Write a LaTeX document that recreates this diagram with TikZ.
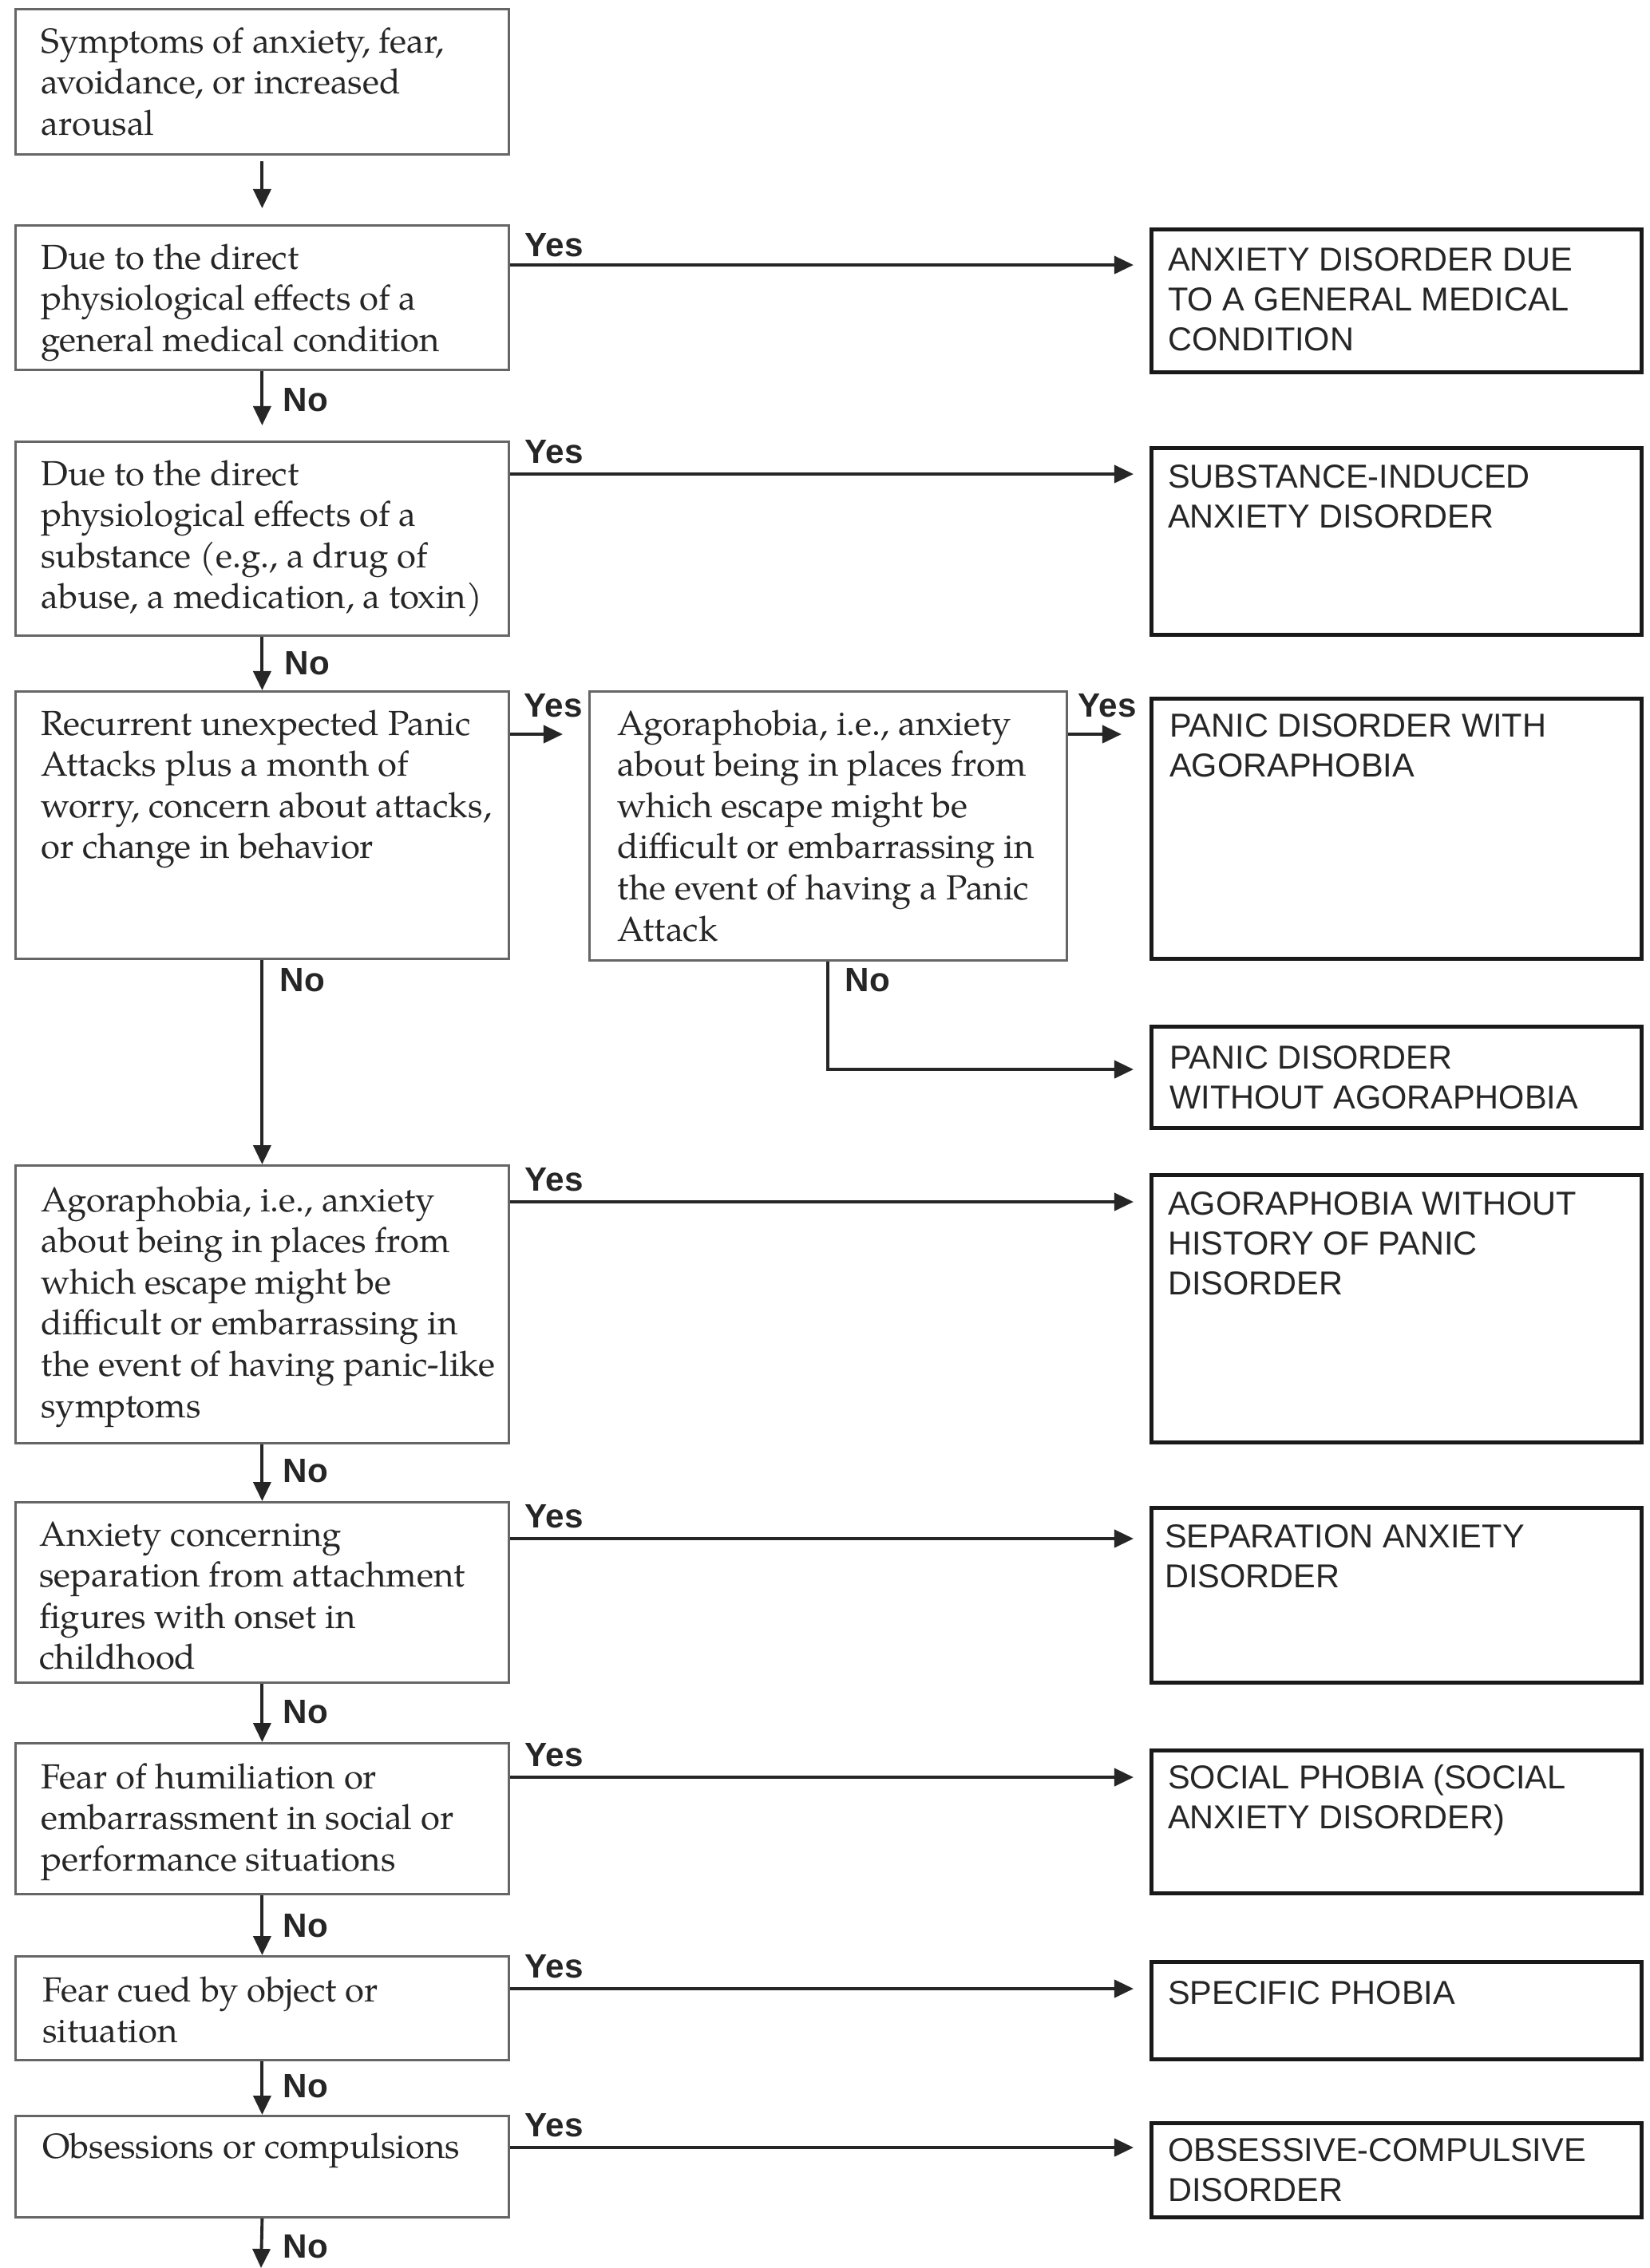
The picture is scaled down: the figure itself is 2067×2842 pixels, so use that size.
\documentclass[tikz,border=0pt]{standalone}
\usepackage{fontspec}
\setmainfont{TeX Gyre Pagella}
\newfontfamily\rfont{Liberation Sans}
\usetikzlibrary{arrows.meta,calc}
\newlength\pxu
\setlength\pxu{0.01cm}
\newcommand\boxtxt[5]{\parbox[t][#2][t]{#1}{\raggedright\leftskip=#3\relax\rule{0pt}{#4}#5\par}}
\tikzset{
  qbox/.style={draw=black!60, line width=0.8pt, inner sep=0pt, anchor=north west,
    font=\fontsize{12.4pt}{14.65pt}\selectfont, text=black!85},
  rbox/.style={draw=black!90, line width=1.3pt, inner sep=0pt, anchor=north west,
    font=\rfont\fontsize{11.8pt}{14.2pt}\selectfont, text=black!85},
  arr/.style={draw=black!85, line width=1.1pt, -{Triangle[length=0.24cm,width=0.22cm]}},
  lab/.style={font=\rfont\bfseries\fontsize{12pt}{14pt}\selectfont, text=black!85,
    inner sep=0pt, anchor=base west},
}
\begin{document}
\begin{tikzpicture}[x=0.01cm,y=-0.01cm]
\useasboundingbox (0,0) rectangle (2067,2842);
\fill[white] (0,0) rectangle (2067,2842);

% decision boxes
\node[qbox] (B1) at (18,10) {\boxtxt{618\pxu}{182\pxu}{32\pxu}{55\pxu}{Symptoms of anxiety, fear,\\avoidance, or increased\\arousal}};
\node[qbox] (B2) at (18,281) {\boxtxt{618\pxu}{181\pxu}{32\pxu}{55\pxu}{Due to the direct\\physiological effects of a\\general medical condition}};
\node[qbox] (B3) at (18,552) {\boxtxt{618\pxu}{243\pxu}{32\pxu}{55\pxu}{Due to the direct\\physiological effects of a\\substance (e.g., a drug of\\abuse, a medication, a toxin)}};
\node[qbox] (B4) at (18,865) {\boxtxt{618\pxu}{335\pxu}{32\pxu}{55\pxu}{Recurrent unexpected Panic\\Attacks plus a month of\\worry, concern about attacks,\\or change in behavior}};
\node[qbox] (B5) at (737,865) {\boxtxt{598\pxu}{337\pxu}{35\pxu}{55\pxu}{Agoraphobia, i.e., anxiety\\about being in places from\\which escape might be\\difficult or embarrassing in\\the event of having a Panic\\Attack}};
\node[qbox] (B6) at (18,1459) {\boxtxt{618\pxu}{348\pxu}{32\pxu}{58\pxu}{Agoraphobia, i.e., anxiety\\about being in places from\\which escape might be\\difficult or embarrassing in\\the event of having panic-like\\symptoms}};
\node[qbox] (B7) at (18,1881) {\boxtxt{618\pxu}{226\pxu}{30\pxu}{55\pxu}{Anxiety concerning\\separation from attachment\\figures with onset in\\childhood}};
\node[qbox] (B8) at (18,2183) {\boxtxt{618\pxu}{189\pxu}{32\pxu}{57\pxu}{Fear of humiliation or\\embarrassment in social or\\performance situations}};
\node[qbox] (B9) at (18,2450) {\boxtxt{618\pxu}{130\pxu}{34\pxu}{57\pxu}{Fear cued by object or\\situation}};
\node[qbox] (B10) at (18,2650) {\boxtxt{618\pxu}{127\pxu}{34\pxu}{53\pxu}{Obsessions or compulsions}};

% result boxes
\node[rbox] (R1) at (1440,285) {\boxtxt{614\pxu}{179\pxu}{21\pxu}{52\pxu}{ANXIETY DISORDER DUE\\TO A GENERAL MEDICAL\\CONDITION}};
\node[rbox] (R2) at (1440,559) {\boxtxt{614\pxu}{234\pxu}{21\pxu}{50\pxu}{SUBSTANCE-INDUCED\\ANXIETY DISORDER}};
\node[rbox] (R3) at (1440,873) {\boxtxt{614\pxu}{326\pxu}{23\pxu}{48\pxu}{PANIC DISORDER WITH\\AGORAPHOBIA}};
\node[rbox] (R4) at (1440,1284) {\boxtxt{614\pxu}{127\pxu}{23\pxu}{53\pxu}{PANIC DISORDER\\WITHOUT AGORAPHOBIA}};
\node[rbox] (R5) at (1440,1470) {\boxtxt{614\pxu}{335\pxu}{21\pxu}{50\pxu}{AGORAPHOBIA WITHOUT\\HISTORY OF PANIC\\DISORDER}};
\node[rbox] (R6) at (1440,1887) {\boxtxt{614\pxu}{219\pxu}{17\pxu}{50\pxu}{SEPARATION ANXIETY\\DISORDER}};
\node[rbox] (R7) at (1440,2191) {\boxtxt{614\pxu}{179\pxu}{21\pxu}{48\pxu}{SOCIAL PHOBIA (SOCIAL\\ANXIETY DISORDER)}};
\node[rbox] (R8) at (1440,2456) {\boxtxt{614\pxu}{122\pxu}{21\pxu}{53\pxu}{SPECIFIC PHOBIA}};
\node[rbox] (R9) at (1440,2658) {\boxtxt{614\pxu}{118\pxu}{21\pxu}{48\pxu}{OBSESSIVE-COMPULSIVE\\DISORDER}};

% vertical (No) connectors
\draw[arr, shorten <=0.07cm, shorten >=0.20cm] (B1.south) -- (B2.north);
\draw[arr, shorten >=0.19cm] (B2.south) -- (B3.north);
\draw[arr] (B3.south) -- (B4.north);
\draw[arr] (B4.south) -- (B6.north);
\draw[arr] (B6.south) -- (B7.north);
\draw[arr] (B7.south) -- (B8.north);
\draw[arr] (B8.south) -- (B9.north);
\draw[arr] (B9.south) -- (B10.north);
\coordinate (endpt) at (327,2842);
\draw[arr] (B10.south) -- (endpt);
\draw[arr, shorten >=0.20cm] (B5.south) |- ([yshift=-0.56cm]R4.north west);

% horizontal (Yes) connectors
\draw[arr, shorten >=0.20cm] ([yshift=-0.51cm]B2.north east) -- ([yshift=-0.51cm]B2.north east -| R1.west);
\draw[arr, shorten >=0.20cm] ([yshift=-0.42cm]B3.north east) -- ([yshift=-0.42cm]B3.north east -| R2.west);
\draw[arr, shorten >=0.32cm] ([yshift=-0.55cm]B4.north east) -- ([yshift=-0.55cm]B4.north east -| B5.west);
\draw[arr, shorten >=0.35cm] ([yshift=-0.55cm]B5.north east) -- ([yshift=-0.55cm]B5.north east -| R3.west);
\draw[arr, shorten >=0.20cm] ([yshift=-0.47cm]B6.north east) -- ([yshift=-0.47cm]B6.north east -| R5.west);
\draw[arr, shorten >=0.20cm] ([yshift=-0.47cm]B7.north east) -- ([yshift=-0.47cm]B7.north east -| R6.west);
\draw[arr, shorten >=0.20cm] ([yshift=-0.44cm]B8.north east) -- ([yshift=-0.44cm]B8.north east -| R7.west);
\draw[arr, shorten >=0.20cm] ([yshift=-0.42cm]B9.north east) -- ([yshift=-0.42cm]B9.north east -| R8.west);
\draw[arr, shorten >=0.20cm] ([yshift=-0.41cm]B10.north east) -- ([yshift=-0.41cm]B10.north east -| R9.west);

% Yes labels
\node[lab] (y1) at (657,321) {Yes};
\node[lab] (y2) at (657,580) {Yes};
\node[lab] (y3) at (656,898) {Yes};
\node[lab] (y4) at (1350,898) {Yes};
\node[lab] (y5) at (657,1492) {Yes};
\node[lab] (y6) at (657,1914) {Yes};
\node[lab] (y7) at (657,2213) {Yes};
\node[lab] (y8) at (657,2478) {Yes};
\node[lab] (y9) at (657,2677) {Yes};

% No labels
\node[lab] (n1) at (354,515) {No};
\node[lab] (n2) at (356,845) {No};
\node[lab] (n3) at (350,1242) {No};
\node[lab] (n4) at (1058,1242) {No};
\node[lab] (n5) at (354,1857) {No};
\node[lab] (n6) at (354,2159) {No};
\node[lab] (n7) at (354,2427) {No};
\node[lab] (n8) at (354,2628) {No};
\node[lab] (n9) at (354,2829) {No};
\end{tikzpicture}
\end{document}
